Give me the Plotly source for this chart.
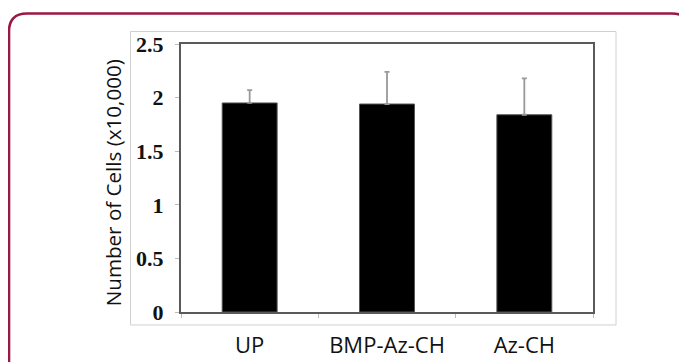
import plotly.graph_objects as go

categories = ["UP", "BMP-Az-CH", "Az-CH"]
values = [1.95, 1.94, 1.84]
errors_up = [0.12, 0.30, 0.34]
y_ticks = [0, 0.5, 1, 1.5, 2, 2.5]
y_tick_text = ["0", "0.5", "1", "1.5", "2", "2.5"]

OFF = 8  # default page body margin
W, H = 687 - OFF, 362 - OFF
L, R, T, B = 181 - OFF, 593 - OFF, 43.5 - OFF, 312 - OFF

def px(x):
    return (x - OFF - L) / (R - L)

def py(y):
    return (B - (y - OFF)) / (B - T)

fig = go.Figure()
fig.add_trace(go.Bar(
    x=categories, y=values, width=0.40,
    marker=dict(color="#000000", line=dict(color="#555555", width=1)),
    error_y=dict(type="data", array=errors_up, arrayminus=[0, 0, 0], symmetric=False,
                 color="#999999", thickness=1.8, width=2.5),
))

# maroon rounded outer border (top corners rounded)
x0, x1, ytop, ybot = px(9), px(690), py(13), py(400)
rx, ry = 18 / (R - L), 18 / (B - T)
path = (f"M {x0} {ybot} L {x0} {ytop - ry} Q {x0} {ytop} {x0 + rx} {ytop} "
        f"L {x1 - rx} {ytop} Q {x1} {ytop} {x1} {ytop - ry} L {x1} {ybot}")
shapes = [
    dict(type="path", xref="paper", yref="paper", path=path,
         line=dict(color="#9B1746", width=2.6)),
    dict(type="rect", xref="paper", yref="paper", x0=px(130.5), x1=px(616), y0=py(325), y1=py(31),
         line=dict(color="#D0D0D0", width=1), layer="below"),
]

fig.update_layout(
    width=W, height=H,
    margin=dict(l=L, r=W - R, t=T, b=H - B, autoexpand=False),
    paper_bgcolor="white", plot_bgcolor="white",
    showlegend=False,
    shapes=shapes,
    xaxis=dict(showline=True, mirror=True, linecolor="#5a5a5a", linewidth=2, automargin=False,
               ticks="outside", tickson="boundaries", ticklen=4, tickcolor="#BBBBBB", tickwidth=1,
               tickfont=dict(family="Open Sans", size=22, color="#111111"),
               ticklabelstandoff=13, showgrid=False, range=[-0.5, 2.5]),
    yaxis=dict(showline=True, mirror=True, linecolor="#5a5a5a", linewidth=2, automargin=False,
               range=[0, 2.5], tickvals=y_ticks, ticktext=y_tick_text,
               ticks="outside", ticklen=4, tickcolor="#BBBBBB", tickwidth=1,
               tickfont=dict(family="Liberation Serif", size=22, color="#111111", weight="bold"),
               ticklabelstandoff=7, showgrid=False, zeroline=False),
    annotations=[dict(text="Number of Cells (x10,000)", xref="paper", yref="paper",
                      x=px(112.5), y=py(182.5), textangle=-90, showarrow=False,
                      xanchor="center", yanchor="middle",
                      font=dict(family="Open Sans", size=20.6, color="#111111"))],
)

fig.write_html("out.html")
